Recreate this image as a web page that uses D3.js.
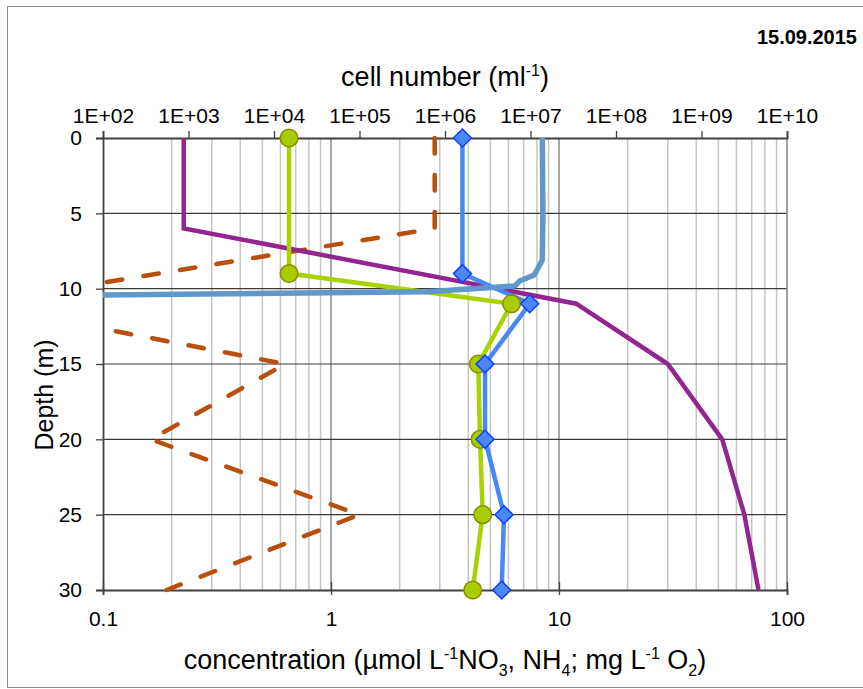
<!DOCTYPE html>
<html>
<head>
<meta charset="utf-8">
<script src="https://cdn.jsdelivr.net/npm/d3@7"></script>
<style>
  body { margin: 0; background: #fff; }
  text { font-family: "Liberation Sans", Arial, sans-serif; fill: #000; }
</style>
</head>
<body>
<div class="chart-container"></div>
<script>
// sampling depths (m) for cell counts
const cellDepth = [0, 9, 11, 15, 20, 25, 30];
const cellsGreen = [1.5e4, 1.5e4, 6.0e6, 2.45e6, 2.57e6, 2.76e6, 2.11e6];
const cellsBlue = [1.6e6, 1.6e6, 9.8e6, 2.94e6, 2.94e6, 4.9e6, 4.6e6];
// chemistry depths
const chemDepth = [0, 6, 11, 15, 20, 25, 30];
const nh4 = [0.226, 0.226, 11.9, 30, 52, 65, 75];
const no3 = [2.85, 2.85, 0.027, 0.63, 0.162, 1.33, 0.19];
// oxygen profile
const o2Depth = [0, 5, 8.1, 9.09, 9.47, 9.82, 10.2, 10.42];
const o2 = [8.45, 8.5, 8.45, 7.79, 6.75, 6.41, 2.64, 0.1];

const depthTicks = [0, 5, 10, 15, 20, 25, 30];
const bottomTicks = [0.1, 1, 10, 100];
const bottomTickLabels = ['0.1', '1', '10', '100'];
const topTicks = [1e2, 1e3, 1e4, 1e5, 1e6, 1e7, 1e8, 1e9, 1e10];
const topTickLabels = ['1E+02', '1E+03', '1E+04', '1E+05', '1E+06', '1E+07', '1E+08', '1E+09', '1E+10'];

const svg_width = 863;
const svg_height = 689;
const plot = { left: 103, right: 787, top: 138, bottom: 590 };

const svg = d3.select('.chart-container')
  .append('svg')
  .attr('width', svg_width)
  .attr('height', svg_height);

// outer frame
svg.append('rect')
  .attr('x', 7.5).attr('y', 6.5)
  .attr('width', 900).attr('height', 681)
  .attr('fill', 'none')
  .attr('stroke', '#8c8c8c')
  .attr('stroke-width', 1);

const xBottom = d3.scaleLog().domain([0.1, 100]).range([plot.left, plot.right]);
const xTop = d3.scaleLog().domain([1e2, 1e10]).range([plot.left, plot.right]);
const yScale = d3.scaleLinear().domain([0, 30]).range([plot.top, plot.bottom]);

// vertical gridlines (log minor + major)
const gridVals = xBottom.ticks();
svg.append('g').selectAll('line')
  .data(gridVals.filter(d => bottomTicks.indexOf(d) < 0))
  .join('line')
  .attr('x1', d => xBottom(d)).attr('x2', d => xBottom(d))
  .attr('y1', plot.top).attr('y2', plot.bottom)
  .attr('stroke', '#c6c6c6')
  .attr('stroke-width', 1.5);
svg.append('g').selectAll('line')
  .data(bottomTicks.slice(1, 3))
  .join('line')
  .attr('x1', d => xBottom(d)).attr('x2', d => xBottom(d))
  .attr('y1', plot.top).attr('y2', plot.bottom)
  .attr('stroke', '#8a8a8a')
  .attr('stroke-width', 1.5);

// horizontal gridlines
svg.append('g').selectAll('line')
  .data(depthTicks.slice(1, -1))
  .join('line')
  .attr('x1', plot.left).attr('x2', plot.right)
  .attr('y1', d => yScale(d)).attr('y2', d => yScale(d))
  .attr('stroke', '#3a3a3a')
  .attr('stroke-width', 1.2);

// right border
svg.append('line')
  .attr('x1', plot.right).attr('x2', plot.right)
  .attr('y1', plot.top).attr('y2', plot.bottom)
  .attr('stroke', '#808080').attr('stroke-width', 1.5);

// axes
const bottomAxis = d3.axisBottom(xBottom)
  .tickValues(bottomTicks)
  .tickFormat((d, i) => bottomTickLabels[i])
  .tickSizeOuter(0)
  .tickSize(5)
  .tickPadding(16);
const bx = svg.append('g')
  .attr('transform', `translate(0,${plot.bottom})`)
  .call(bottomAxis);

const topAxis = d3.axisTop(xTop)
  .tickValues(topTicks)
  .tickFormat((d, i) => topTickLabels[i])
  .tickSizeOuter(0)
  .tickSize(7)
  .tickPadding(8);
const tx = svg.append('g')
  .attr('transform', `translate(0,${plot.top})`)
  .call(topAxis);

const leftAxis = d3.axisLeft(yScale)
  .tickValues(depthTicks)
  .tickSizeOuter(0)
  .tickSize(7)
  .tickPadding(14);
const lx = svg.append('g')
  .attr('transform', `translate(${plot.left},0)`)
  .call(leftAxis);

[bx, tx, lx].forEach(g => {
  g.select('.domain').attr('stroke', '#404040').attr('stroke-width', 1.8);
  g.selectAll('.tick line').attr('stroke', '#404040').attr('stroke-width', 1.3);
  g.selectAll('.tick text')
    .style('font-family', '"Liberation Sans", Arial, sans-serif')
    .style('font-size', '21px')
    .attr('fill', '#000');
});
bx.selectAll('.tick line').attr('y1', -8);

// lines (clipped to plot area)
svg.append('clipPath').attr('id', 'plot-clip')
  .append('rect')
  .attr('x', plot.left).attr('y', plot.top - 10)
  .attr('width', plot.right - plot.left).attr('height', plot.bottom - plot.top + 20);

const lines = svg.append('g').attr('clip-path', 'url(#plot-clip)');

const lineBottom = (depths) => d3.line()
  .x(d => xBottom(d))
  .y((d, i) => yScale(depths[i]));
const lineTop = (depths) => d3.line()
  .x(d => xTop(d))
  .y((d, i) => yScale(depths[i]));

lines.append('path')
  .datum(no3)
  .attr('d', lineBottom(chemDepth))
  .attr('fill', 'none')
  .attr('stroke', '#b84f0b')
  .attr('stroke-width', 4.5)
  .attr('stroke-linecap', 'round')
  .attr('stroke-dasharray', '15.5,21.5');

lines.append('path')
  .datum(nh4)
  .attr('d', lineBottom(chemDepth))
  .attr('fill', 'none')
  .attr('stroke', '#922590')
  .attr('stroke-width', 4.5);

lines.append('path')
  .datum(cellsGreen)
  .attr('d', lineTop(cellDepth))
  .attr('fill', 'none')
  .attr('stroke', '#a8d200')
  .attr('stroke-width', 4.5);

lines.append('path')
  .datum(cellsBlue)
  .attr('d', lineTop(cellDepth))
  .attr('fill', 'none')
  .attr('stroke', '#4787f8')
  .attr('stroke-width', 4.5);

lines.append('path')
  .datum(o2)
  .attr('d', lineBottom(o2Depth))
  .attr('fill', 'none')
  .attr('stroke', '#6198cb')
  .attr('stroke-width', 5.5)
  .attr('stroke-linejoin', 'round');

// markers
svg.append('g').selectAll('circle')
  .data(cellsGreen)
  .join('circle')
  .attr('cx', d => xTop(d))
  .attr('cy', (d, i) => yScale(cellDepth[i]))
  .attr('r', 8.8)
  .attr('fill', '#a7cc00')
  .attr('stroke', '#8c8a00')
  .attr('stroke-width', 1.5);

svg.append('g').selectAll('path')
  .data(cellsBlue)
  .join('path')
  .attr('transform', (d, i) => `translate(${xTop(d)},${yScale(cellDepth[i])})`)
  .attr('d', 'M0,-9L9,0L0,9L-9,0Z')
  .attr('fill', '#4a89f5')
  .attr('stroke', '#1040ff')
  .attr('stroke-width', 1.5);

// titles
svg.append('text')
  .attr('x', 857).attr('y', 44)
  .attr('text-anchor', 'end')
  .style('font-size', '20px')
  .style('font-weight', 'bold')
  .text('15.09.2015');

const topTitle = svg.append('text')
  .attr('x', 445).attr('y', 86)
  .attr('text-anchor', 'middle')
  .style('font-size', '27px');
topTitle.append('tspan').text('cell number (ml');
topTitle.append('tspan').text('-1').attr('dy', -10).style('font-size', '16px');
topTitle.append('tspan').text(')').attr('dy', 10);

svg.append('text')
  .attr('transform', 'translate(53,395) rotate(-90)')
  .attr('text-anchor', 'middle')
  .style('font-size', '25px')
  .text('Depth (m)');

const bottomTitle = svg.append('text')
  .attr('x', 445).attr('y', 669)
  .attr('text-anchor', 'middle')
  .style('font-size', '27px');
bottomTitle.append('tspan').text('concentration (µmol L');
bottomTitle.append('tspan').text('-1').attr('dy', -10).style('font-size', '16px');
bottomTitle.append('tspan').text('NO').attr('dy', 10);
bottomTitle.append('tspan').text('3').attr('dy', 7).style('font-size', '16px');
bottomTitle.append('tspan').text(', NH').attr('dy', -7);
bottomTitle.append('tspan').text('4').attr('dy', 7).style('font-size', '16px');
bottomTitle.append('tspan').text('; mg L').attr('dy', -7);
bottomTitle.append('tspan').text('-1').attr('dy', -10).style('font-size', '16px');
bottomTitle.append('tspan').text(' O').attr('dy', 10);
bottomTitle.append('tspan').text('2').attr('dy', 7).style('font-size', '16px');
bottomTitle.append('tspan').text(')').attr('dy', -7);
</script>
</body>
</html>
